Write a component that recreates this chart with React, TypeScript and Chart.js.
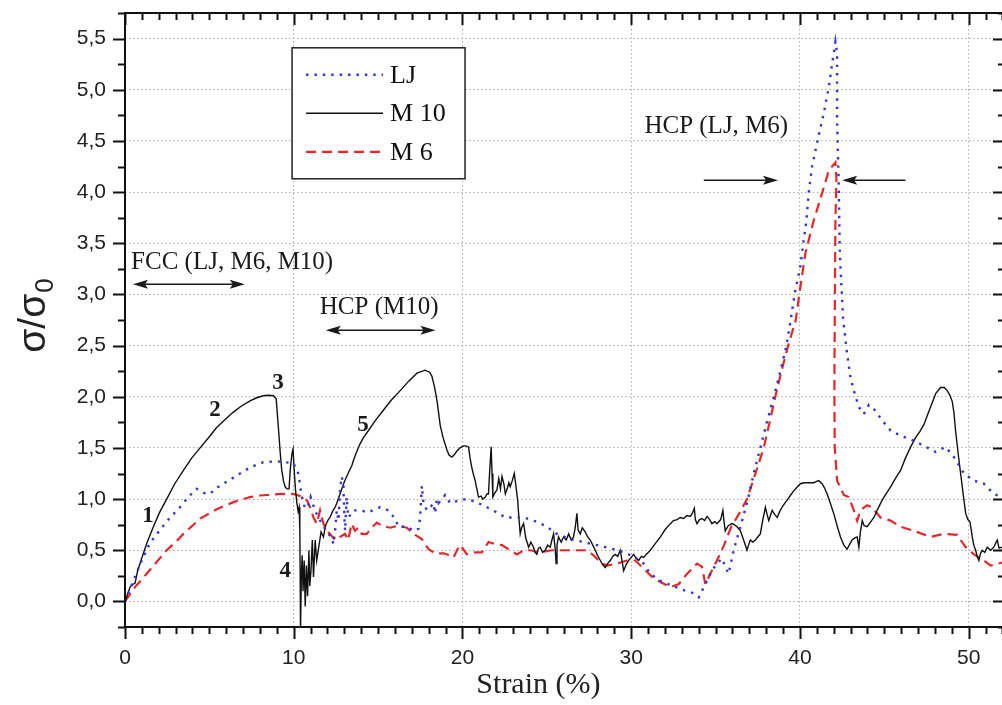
import React, { useEffect, useRef } from "react";
import { Chart, registerables } from "chart.js";

Chart.register(...registerables);

// ---------- axis setup ----------
const X_MIN = 0;
const X_MAX = 52.15;
const Y_MIN = -0.25;
const Y_MAX = 5.75;
const X_TICKS = [0, 10, 20, 30, 40, 50];
const Y_TICKS = [0, 0.5, 1, 1.5, 2, 2.5, 3, 3.5, 4, 4.5, 5, 5.5];
const X_TITLE = "Strain (%)";
const Y_TITLE_MAIN = "σ/σ";
const Y_TITLE_SUB = "0";

// ---------- series labels ----------
const SERIES_LABELS = ["LJ", "M 10", "M 6"];

// ---------- data: [strain %, σ/σ0] ----------
const LJ: [number, number][] = [
  [0, 0], [0.49, 0.2], [0.99, 0.4], [1.48, 0.57], [2.08, 0.7], [2.67, 0.82], [3.26, 0.92], [3.75, 1.02],
  [4.25, 1.1], [4.64, 1.06], [5.04, 1.05], [5.34, 1.1], [5.83, 1.15], [6.62, 1.23], [7.41, 1.31], [8.2, 1.36],
  [8.99, 1.37], [9.5, 1.36], [9.98, 1.35], [10.27, 1.25], [10.46, 1.04], [10.65, 0.92], [10.82, 0.91], [11.0, 1.02],
  [11.26, 0.89], [11.45, 0.82], [11.78, 0.73], [12.04, 0.66], [12.24, 0.63], [12.35, 0.56], [12.45, 0.69], [12.55, 0.89],
  [12.65, 0.79], [12.74, 1.08], [12.84, 1.22], [12.94, 1.15], [12.98, 0.92], [13.04, 0.69], [13.14, 1.02], [13.23, 0.82],
  [13.43, 0.86], [13.53, 0.89], [13.93, 0.89], [14.42, 0.87], [14.92, 0.91], [15.12, 0.92], [15.61, 0.89], [16.0, 0.81],
  [16.2, 0.73], [16.7, 0.73], [17.1, 0.69], [17.4, 0.71], [17.49, 0.82], [17.59, 1.13], [17.69, 0.96], [17.89, 0.89],
  [18.09, 0.92], [18.28, 0.96], [18.38, 0.86], [18.48, 1.0], [18.58, 0.96], [18.97, 1.04], [19.27, 0.96], [19.87, 0.99],
  [20.26, 1.0], [20.46, 0.99], [20.95, 0.96], [21.45, 0.92], [22.04, 0.87], [22.54, 0.82], [23.03, 0.82], [23.62, 0.82],
  [24.21, 0.79], [24.9, 0.74], [25.59, 0.66], [26.38, 0.61], [27.17, 0.58], [27.96, 0.55], [28.76, 0.52], [29.55, 0.48],
  [30.24, 0.43], [30.74, 0.37], [31.13, 0.27], [31.73, 0.2], [32.32, 0.16], [33.11, 0.11], [33.7, 0.08], [34.0, 0.04],
  [34.09, 0.06], [34.29, 0.14], [34.49, 0.2], [34.78, 0.3], [35.08, 0.37], [35.38, 0.42], [35.6, 0.33], [35.77, 0.27],
  [36.07, 0.5], [36.47, 0.73], [36.92, 1.0], [37.26, 1.25], [37.65, 1.5], [38.05, 1.76], [38.45, 2.0], [38.84, 2.25],
  [39.2, 2.5], [39.45, 2.75], [39.69, 3.01], [40.02, 3.27], [40.22, 3.53], [40.38, 3.72], [40.52, 4.0], [40.72, 4.25],
  [41.05, 4.51], [41.41, 4.77], [41.71, 5.03], [41.94, 5.29], [42.1, 5.47], [42.2, 5.35], [42.2, 4.7], [42.3, 4.05],
  [42.36, 3.4], [42.56, 2.75], [42.79, 2.42], [42.99, 2.19], [43.19, 2.06], [43.49, 1.9], [43.78, 1.83], [44.08, 1.92],
  [44.38, 1.88], [44.87, 1.77], [45.37, 1.67], [45.96, 1.62], [46.75, 1.57], [47.35, 1.52], [48.04, 1.46], [48.63, 1.51],
  [49.13, 1.41], [49.72, 1.25], [50.31, 1.18], [50.9, 1.15], [51.49, 1.05], [51.99, 1.02], [52.2, 1.0],
];

const M10: [number, number][] = [
  [0, 0], [0.3, 0.14], [0.5, 0.17], [0.6, 0.18], [0.75, 0.3], [1.09, 0.47], [1.3, 0.57], [1.68, 0.73],
  [2.05, 0.87], [2.47, 1.0], [2.95, 1.15], [3.46, 1.28], [3.95, 1.4], [4.45, 1.5], [4.95, 1.6], [5.43, 1.7],
  [5.95, 1.78], [6.42, 1.85], [6.9, 1.91], [7.41, 1.96], [7.8, 1.99], [8.2, 2.01], [8.5, 2.015], [8.8, 2.01],
  [8.96, 1.98], [9.02, 1.85], [9.09, 1.7], [9.2, 1.45], [9.29, 1.28], [9.4, 1.17], [9.49, 1.12], [9.6, 1.1],
  [9.72, 1.1], [9.8, 1.3], [9.9, 1.45], [9.96, 1.49], [10.02, 1.3], [10.1, 1.1], [10.18, 0.97], [10.26, 0.88],
  [10.32, 0.92], [10.36, 0.7], [10.38, 0.3], [10.4, -0.3], [10.45, 0.25], [10.5, 0.45], [10.55, 0.1], [10.62, 0.4],
  [10.68, -0.05], [10.75, 0.35], [10.82, 0.05], [10.9, 0.5], [10.95, 0.15], [11.02, 0.3], [11.1, 0.6], [11.17, 0.24],
  [11.27, 0.6], [11.36, 0.4], [11.5, 0.55], [11.62, 0.68], [11.76, 0.63], [11.9, 0.75], [12.05, 0.8], [12.15, 0.82],
  [12.3, 0.88], [12.45, 0.92], [12.55, 0.96], [12.7, 1.03], [12.85, 1.1], [13.0, 1.17], [13.14, 1.22], [13.3, 1.28],
  [13.45, 1.33], [13.54, 1.38], [13.7, 1.45], [13.93, 1.54], [14.13, 1.6], [14.43, 1.67], [14.8, 1.76], [15.32, 1.87],
  [15.8, 1.97], [16.31, 2.06], [16.8, 2.15], [17.3, 2.23], [17.79, 2.26], [18.05, 2.24], [18.19, 2.2], [18.35, 2.09],
  [18.5, 1.95], [18.68, 1.72], [18.85, 1.6], [19.08, 1.48], [19.2, 1.43], [19.37, 1.41], [19.5, 1.43], [19.67, 1.47],
  [19.85, 1.5], [20.07, 1.52], [20.2, 1.52], [20.36, 1.51], [20.45, 1.4], [20.55, 1.31], [20.65, 1.24], [20.75, 1.18],
  [20.85, 1.1], [20.95, 1.02], [21.1, 1.03], [21.2, 1.0], [21.35, 1.02], [21.45, 1.05], [21.54, 1.05], [21.62, 1.3],
  [21.7, 1.51], [21.75, 1.25], [21.8, 1.02], [21.92, 1.06], [22.04, 1.09], [22.15, 1.2], [22.25, 1.1], [22.34, 1.22],
  [22.45, 1.15], [22.54, 1.05], [22.65, 1.1], [22.75, 1.16], [22.83, 1.12], [22.95, 1.18], [23.07, 1.25], [23.15, 1.15],
  [23.27, 0.99], [23.35, 0.8], [23.42, 0.66], [23.5, 0.72], [23.62, 0.76], [23.75, 0.62], [23.92, 0.53], [24.05, 0.58],
  [24.21, 0.53], [24.3, 0.48], [24.41, 0.46], [24.5, 0.52], [24.6, 0.53], [24.75, 0.48], [24.9, 0.5], [25.05, 0.55],
  [25.2, 0.53], [25.3, 0.6], [25.4, 0.66], [25.5, 0.5], [25.55, 0.37], [25.6, 0.55], [25.69, 0.63], [25.85, 0.58],
  [25.99, 0.63], [26.15, 0.6], [26.29, 0.66], [26.45, 0.6], [26.58, 0.63], [26.68, 0.72], [26.78, 0.86], [26.85, 0.7],
  [26.98, 0.66], [27.1, 0.72], [27.27, 0.68], [27.42, 0.63], [27.57, 0.6], [27.72, 0.55], [27.87, 0.5], [28.0, 0.45],
  [28.17, 0.4], [28.3, 0.36], [28.46, 0.33], [28.6, 0.37], [28.76, 0.4], [28.9, 0.44], [29.05, 0.46], [29.2, 0.44],
  [29.35, 0.5], [29.45, 0.4], [29.55, 0.3], [29.7, 0.36], [29.85, 0.4], [30.0, 0.43], [30.14, 0.46], [30.3, 0.42],
  [30.44, 0.4], [30.6, 0.44], [30.74, 0.43], [30.9, 0.46], [31.13, 0.5], [31.4, 0.56], [31.73, 0.63], [32.0, 0.7],
  [32.32, 0.76], [32.5, 0.79], [32.72, 0.8], [32.9, 0.82], [33.11, 0.81], [33.3, 0.84], [33.5, 0.83], [33.62, 0.86],
  [33.74, 0.91], [33.8, 0.8], [33.9, 0.76], [34.05, 0.8], [34.19, 0.81], [34.35, 0.79], [34.49, 0.83], [34.65, 0.8],
  [34.78, 0.76], [34.95, 0.78], [35.08, 0.76], [35.3, 0.8], [35.43, 0.89], [35.5, 0.78], [35.57, 0.69], [35.75, 0.74],
  [35.97, 0.76], [36.1, 0.75], [36.27, 0.73], [36.47, 0.69], [36.66, 0.6], [36.86, 0.5], [36.95, 0.55], [37.06, 0.6],
  [37.2, 0.58], [37.36, 0.6], [37.5, 0.63], [37.65, 0.66], [37.8, 0.8], [37.95, 0.92], [38.05, 0.85], [38.15, 0.79],
  [38.25, 0.84], [38.35, 0.89], [38.5, 0.85], [38.65, 0.82], [38.8, 0.88], [38.94, 0.92], [39.1, 0.96], [39.24, 0.99],
  [39.45, 1.04], [39.63, 1.08], [39.85, 1.12], [40.03, 1.15], [40.22, 1.16], [40.42, 1.16], [40.62, 1.16], [40.82, 1.16],
  [40.95, 1.17], [41.11, 1.18], [41.31, 1.15], [41.45, 1.11], [41.61, 1.05], [41.8, 0.96], [42.0, 0.86], [42.2, 0.74],
  [42.4, 0.63], [42.6, 0.55], [42.79, 0.51], [42.95, 0.56], [43.09, 0.6], [43.25, 0.62], [43.39, 0.63], [43.49, 0.53],
  [43.58, 0.68], [43.69, 0.79], [43.8, 0.74], [43.98, 0.73], [44.2, 0.78], [44.38, 0.82], [44.6, 0.9], [44.87, 0.99],
  [45.1, 1.05], [45.37, 1.12], [45.65, 1.2], [45.96, 1.28], [46.25, 1.4], [46.56, 1.51], [46.85, 1.6], [47.1, 1.66],
  [47.35, 1.73], [47.55, 1.82], [47.74, 1.9], [48.04, 2.03], [48.33, 2.09], [48.55, 2.09], [48.73, 2.06], [48.9, 2.01],
  [49.03, 1.95], [49.12, 1.85], [49.22, 1.67], [49.37, 1.45], [49.52, 1.25], [49.67, 1.05], [49.82, 0.86], [49.95, 0.8],
  [50.07, 0.78], [50.15, 0.7], [50.21, 0.63], [50.3, 0.55], [50.41, 0.5], [50.5, 0.44], [50.6, 0.4], [50.7, 0.47],
  [50.8, 0.5], [50.95, 0.48], [51.1, 0.53], [51.3, 0.5], [51.49, 0.53], [51.6, 0.57], [51.69, 0.6], [51.8, 0.52],
  [51.99, 0.53], [52.2, 0.55],
];

const M6: [number, number][] = [
  [0, 0], [0.59, 0.14], [1.28, 0.27], [1.9, 0.39], [2.47, 0.5], [3.0, 0.58], [3.46, 0.66], [4.0, 0.74],
  [4.45, 0.81], [5.0, 0.86], [5.43, 0.9], [6.0, 0.94], [6.42, 0.97], [7.0, 1.0], [7.41, 1.02], [8.0, 1.035],
  [8.4, 1.04], [9.19, 1.05], [9.98, 1.05], [10.57, 1.02], [10.77, 0.99], [10.97, 0.92], [11.17, 0.82], [11.36, 0.76],
  [11.56, 0.89], [11.76, 0.76], [11.96, 0.69], [12.15, 0.66], [12.45, 0.6], [12.74, 0.63], [13.04, 0.66], [13.23, 0.6],
  [13.43, 0.76], [13.63, 0.69], [13.83, 0.72], [14.03, 0.66], [14.33, 0.66], [14.62, 0.72], [14.92, 0.77], [15.22, 0.74],
  [15.71, 0.72], [16.2, 0.74], [16.7, 0.72], [17.2, 0.65], [17.59, 0.61], [17.99, 0.51], [18.38, 0.47], [18.88, 0.47],
  [19.27, 0.45], [19.47, 0.43], [19.77, 0.53], [19.87, 0.55], [20.26, 0.46], [20.75, 0.48], [21.15, 0.48], [21.54, 0.58],
  [21.94, 0.56], [22.34, 0.55], [22.83, 0.5], [23.23, 0.46], [23.62, 0.5], [24.01, 0.5], [24.6, 0.48], [25.3, 0.5],
  [25.99, 0.5], [26.78, 0.5], [27.37, 0.5], [27.77, 0.45], [28.17, 0.38], [28.56, 0.35], [29.15, 0.37], [29.74, 0.4],
  [30.24, 0.4], [30.74, 0.32], [31.23, 0.24], [31.73, 0.19], [32.32, 0.14], [32.82, 0.17], [33.31, 0.27], [33.9, 0.37],
  [34.19, 0.34], [34.39, 0.17], [34.49, 0.2], [34.68, 0.27], [35.08, 0.4], [35.5, 0.55], [35.9, 0.72], [36.4, 0.86],
  [36.86, 1.0], [37.36, 1.25], [37.85, 1.5], [38.2, 1.75], [38.54, 2.0], [38.9, 2.25], [39.3, 2.5], [39.75, 2.75],
  [40.02, 3.07], [40.32, 3.4], [40.81, 3.72], [41.31, 3.99], [41.71, 4.21], [42.1, 4.29], [42.16, 4.12], [42.1, 3.72],
  [42.06, 2.75], [42.04, 2.09], [42.06, 1.51], [42.2, 1.18], [42.6, 1.04], [42.89, 1.02], [43.19, 0.89], [43.39, 0.79],
  [43.58, 0.89], [43.98, 0.94], [44.28, 0.92], [44.77, 0.82], [45.37, 0.79], [45.96, 0.73], [46.75, 0.69], [47.74, 0.63],
  [48.53, 0.66], [49.32, 0.65], [49.82, 0.53], [50.31, 0.46], [50.9, 0.4], [51.3, 0.35], [51.99, 0.38], [52.2, 0.38],
];

// ---------- annotation texts ----------
const PHASE_NOTES = [
  { text: "FCC (LJ, M6, M10)", x: 0.36, y: 3.31, align: "left" },
  { text: "HCP (M10)", x: 15.06, y: 2.87, align: "center" },
  { text: "HCP (LJ, M6)", x: 35.04, y: 4.64, align: "center" },
];
const DOUBLE_ARROWS = [
  { x1: 0.47, x2: 7.1, y: 3.1 },
  { x1: 11.9, x2: 18.4, y: 2.65 },
];
const SINGLE_ARROWS = [
  { from: 34.3, to: 38.7, y: 4.115 },
  { from: 46.25, to: 42.5, y: 4.115 },
];
const POINT_NUMBERS = [
  { text: "1", x: 1.36, y: 0.83 },
  { text: "2", x: 5.34, y: 1.87 },
  { text: "3", x: 9.07, y: 2.13 },
  { text: "4", x: 9.49, y: 0.3 },
  { text: "5", x: 14.11, y: 1.72 },
];
const LEGEND_ANCHOR = { x: 9.9, y: 5.41 };

const SERIF = '"Liberation Serif", "DejaVu Serif", serif';
const SANS = '"Liberation Sans", Arial, sans-serif';

function arrowHead(ctx: CanvasRenderingContext2D, tipX: number, y: number, dir: number) {
  const len = 15;
  const half = 4.5;
  ctx.beginPath();
  ctx.moveTo(tipX, y);
  ctx.lineTo(tipX - dir * len, y - half);
  ctx.lineTo(tipX - dir * (len - 3), y);
  ctx.lineTo(tipX - dir * len, y + half);
  ctx.closePath();
  ctx.fill();
}

const decorPlugin = {
  id: "decor",
  afterDatasetsDraw(chart: any) {
    const ctx: CanvasRenderingContext2D = chart.ctx;
    const xs = chart.scales.x;
    const ys = chart.scales.y;
    ctx.save();
    ctx.fillStyle = "#1a1a1a";
    ctx.strokeStyle = "#1a1a1a";
    ctx.font = `25px ${SERIF}`;
    ctx.textBaseline = "middle";
    PHASE_NOTES.forEach((n) => {
      ctx.textAlign = n.align as CanvasTextAlign;
      ctx.fillText(n.text, xs.getPixelForValue(n.x), ys.getPixelForValue(n.y));
    });
    ctx.lineWidth = 1.6;
    DOUBLE_ARROWS.forEach((a) => {
      const x1 = xs.getPixelForValue(a.x1);
      const x2 = xs.getPixelForValue(a.x2);
      const y = ys.getPixelForValue(a.y);
      ctx.beginPath();
      ctx.moveTo(x1 + 8, y);
      ctx.lineTo(x2 - 8, y);
      ctx.stroke();
      arrowHead(ctx, x1, y, -1);
      arrowHead(ctx, x2, y, 1);
    });
    SINGLE_ARROWS.forEach((a) => {
      const x1 = xs.getPixelForValue(a.from);
      const x2 = xs.getPixelForValue(a.to);
      const y = ys.getPixelForValue(a.y);
      const dir = x2 > x1 ? 1 : -1;
      ctx.beginPath();
      ctx.moveTo(x1, y);
      ctx.lineTo(x2 - dir * 8, y);
      ctx.stroke();
      arrowHead(ctx, x2, y, dir);
    });
    ctx.font = `bold 23px ${SERIF}`;
    ctx.textAlign = "center";
    POINT_NUMBERS.forEach((p) => {
      ctx.fillText(p.text, xs.getPixelForValue(p.x), ys.getPixelForValue(p.y));
    });
    ctx.restore();
  },
  afterDraw(chart: any) {
    const ctx: CanvasRenderingContext2D = chart.ctx;
    const xs = chart.scales.x;
    const ys = chart.scales.y;
    const a = chart.chartArea;
    ctx.save();
    ctx.strokeStyle = "#111";
    ctx.fillStyle = "#111";
    ctx.setLineDash([]);
    ctx.lineWidth = 2;
    ctx.strokeRect(a.left, a.top, a.right - a.left, a.bottom - a.top);
    for (let v = X_MIN; v <= X_MAX + 1e-6; v += 1) {
      const major = Math.abs(v % 10) < 1e-6;
      const len = major ? 12 : 7;
      const px = Math.round(xs.getPixelForValue(v)) + 0.5;
      ctx.beginPath();
      ctx.moveTo(px, a.bottom);
      ctx.lineTo(px, a.bottom + len);
      ctx.moveTo(px, a.top);
      ctx.lineTo(px, a.top + len);
      ctx.stroke();
    }
    for (let v = Y_MIN; v <= Y_MAX + 1e-6; v += 0.25) {
      const major = Math.abs(v * 2 - Math.round(v * 2)) < 1e-6;
      const len = major ? 12 : 7;
      const py = Math.round(ys.getPixelForValue(v)) + 0.5;
      ctx.beginPath();
      ctx.moveTo(a.left, py);
      ctx.lineTo(a.left - len, py);
      ctx.moveTo(a.right, py);
      ctx.lineTo(a.right - len, py);
      ctx.stroke();
    }
    // legend
    const lx = xs.getPixelForValue(LEGEND_ANCHOR.x);
    const ly = ys.getPixelForValue(LEGEND_ANCHOR.y);
    const lw = 173;
    const lh = 131;
    ctx.fillStyle = "#fff";
    ctx.fillRect(lx, ly, lw, lh);
    ctx.lineWidth = 1.5;
    ctx.strokeStyle = "#222";
    ctx.strokeRect(lx, ly, lw, lh);
    ctx.font = `26px ${SERIF}`;
    ctx.textAlign = "left";
    ctx.textBaseline = "middle";
    chart.data.datasets.forEach((ds: any, i: number) => {
      const ry = ly + 27 + i * 38.5;
      ctx.save();
      ctx.strokeStyle = ds.borderColor;
      ctx.lineWidth = ds.borderWidth;
      ctx.setLineDash(ds.borderDash || []);
      ctx.lineCap = "butt";
      ctx.beginPath();
      ctx.moveTo(lx + 14, ry);
      ctx.lineTo(lx + 91, ry);
      ctx.stroke();
      ctx.restore();
      ctx.fillStyle = "#111";
      ctx.fillText(ds.label, lx + 98, ry + 1);
    });
    // x title
    ctx.fillStyle = "#222";
    ctx.font = `30px ${SERIF}`;
    ctx.textAlign = "center";
    ctx.textBaseline = "alphabetic";
    ctx.fillText(X_TITLE, xs.getPixelForValue(24.5), a.bottom + 66);
    // y title with subscript
    ctx.save();
    const mainFont = `39px ${SANS}`;
    const subFont = `26px ${SANS}`;
    ctx.font = mainFont;
    const wMain = ctx.measureText(Y_TITLE_MAIN).width;
    ctx.font = subFont;
    const wSub = ctx.measureText(Y_TITLE_SUB).width;
    const total = wMain + wSub;
    const cy = (a.top + a.bottom) / 2 - 4;
    ctx.translate(a.left - 80, cy + total / 2);
    ctx.rotate(-Math.PI / 2);
    ctx.textAlign = "left";
    ctx.font = mainFont;
    ctx.fillText(Y_TITLE_MAIN, 0, 0);
    ctx.font = subFont;
    ctx.fillText(Y_TITLE_SUB, wMain + 1, 8);
    ctx.restore();
    ctx.restore();
  },
};

export default function App() {
  const ref = useRef<HTMLCanvasElement | null>(null);
  useEffect(() => {
    if (!ref.current) return;
    const toPts = (arr: [number, number][]) => arr.map(([x, y]) => ({ x, y }));
    const chart = new Chart(ref.current, {
      type: "line",
      data: {
        datasets: [
          {
            label: SERIES_LABELS[0],
            data: toPts(LJ),
            borderColor: "#3434d0",
            borderWidth: 2.4,
            borderDash: [2.4, 6],
            pointRadius: 0,
            tension: 0,
          },
          {
            label: SERIES_LABELS[1],
            data: toPts(M10),
            borderColor: "#111111",
            borderWidth: 1.4,
            pointRadius: 0,
            tension: 0,
          },
          {
            label: SERIES_LABELS[2],
            data: toPts(M6),
            borderColor: "#e3282c",
            borderWidth: 2.2,
            borderDash: [10, 6],
            pointRadius: 0,
            tension: 0,
          },
        ],
      },
      options: {
        responsive: false,
        animation: false,
        layout: { padding: { left: 0, top: 13, right: 5, bottom: 0 } },
        plugins: { legend: { display: false }, tooltip: { enabled: false } },
        scales: {
          x: {
            type: "linear",
            min: X_MIN,
            max: X_MAX,
            afterBuildTicks: (s: any) => {
              s.ticks = X_TICKS.map((v) => ({ value: v }));
            },
            afterFit: (s: any) => {
              s.height = 78;
              s.paddingLeft = 0;
              s.paddingRight = 0;
            },
            grid: { color: "#adadad", lineWidth: 1, drawTicks: false },
            border: { display: false, dash: [1.5, 2.5] },
            ticks: {
              color: "#222",
              font: { family: SANS, size: 21 },
              padding: 19,
              maxRotation: 0,
              callback: (v: any) => String(v),
            },
          },
          y: {
            type: "linear",
            min: Y_MIN,
            max: Y_MAX,
            afterBuildTicks: (s: any) => {
              s.ticks = Y_TICKS.map((v) => ({ value: v }));
            },
            afterFit: (s: any) => {
              s.width = 125;
              s.paddingTop = 0;
              s.paddingBottom = 0;
            },
            grid: { color: "#adadad", lineWidth: 1, drawTicks: false },
            border: { display: false, dash: [1.5, 2.5] },
            ticks: {
              color: "#222",
              font: { family: SANS, size: 21 },
              padding: 19,
              callback: (v: any) => Number(v).toFixed(1).replace(".", ","),
            },
          },
        },
      },
      plugins: [decorPlugin],
    });
    return () => chart.destroy();
  }, []);
  return (
    <div style={{ position: "fixed", left: 0, top: 0, width: 1002, height: 705, overflow: "hidden", background: "#fff" }}>
      <canvas ref={ref} width={1010} height={705} style={{ display: "block" }} />
    </div>
  );
}
